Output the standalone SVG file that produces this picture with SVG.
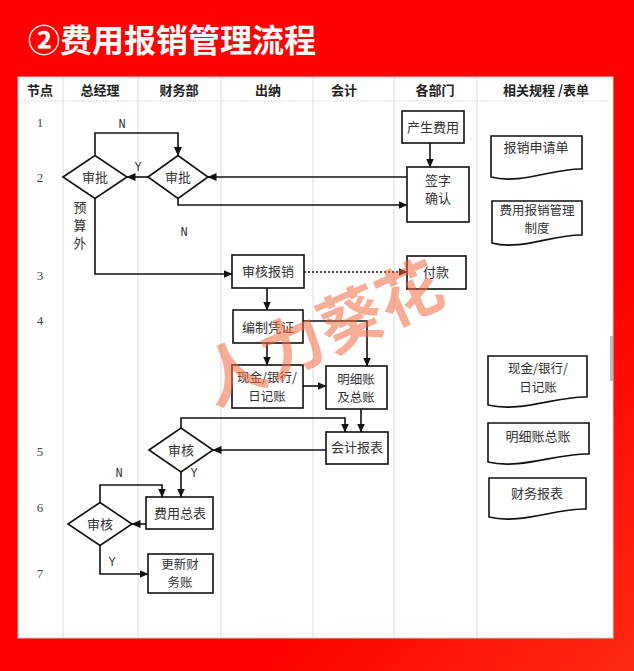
<svg xmlns="http://www.w3.org/2000/svg" width="634" height="671" viewBox="0 0 634 671">
<defs>
<linearGradient id="bg" x1="0" y1="0" x2="1" y2="1">
<stop offset="0" stop-color="#ff0000"/>
<stop offset="0.7" stop-color="#ff0200"/>
<stop offset="1" stop-color="#ff2a12"/>
</linearGradient>
<marker id="ah" markerWidth="9" markerHeight="8" refX="8.5" refY="4" orient="auto" markerUnits="userSpaceOnUse">
<path d="M0,0 L9,4 L0,8 Z" fill="#111"/>
</marker>
<style>
.hdr{font-family:"Noto Sans CJK SC","Liberation Sans",sans-serif;font-size:13px;font-weight:bold;fill:#222;text-anchor:middle}
.num{font-family:"Liberation Serif",serif;font-size:13px;fill:#444;text-anchor:middle}
.lbl{font-family:"Liberation Mono",monospace;font-size:12px;fill:#333;text-anchor:middle}
.t{font-family:"Noto Sans CJK SC","Liberation Sans",sans-serif;font-size:13px;fill:#333;text-anchor:middle}
.s{font-size:12.5px}
.box{fill:#fff;stroke:#111;stroke-width:1.6}
.col{stroke:#dcdcdc;stroke-width:1;fill:none}
.con{stroke:#111;stroke-width:1.6;fill:none}
</style>
</defs>
<rect x="0" y="0" width="634" height="671" fill="url(#bg)"/>
<text x="28" y="52" font-family="'Noto Sans CJK SC','Liberation Sans',sans-serif" font-size="32" font-weight="bold" fill="#fff">②费用报销管理流程</text>
<g id="table">
<rect x="18" y="77" width="595" height="561" fill="#fff" stroke="#cfcfcf" stroke-width="1"/>
<line class="col" x1="18" y1="101" x2="613" y2="101" stroke-dasharray="2,1"/>
<line class="col" x1="63" y1="77" x2="63" y2="638"/>
<line class="col" x1="138" y1="77" x2="138" y2="638"/>
<line class="col" x1="221" y1="77" x2="221" y2="638"/>
<line class="col" x1="313" y1="77" x2="313" y2="638"/>
<line class="col" x1="394" y1="77" x2="394" y2="638"/>
<line class="col" x1="477" y1="77" x2="477" y2="638"/>
<rect x="610" y="336" width="3" height="45" fill="#bdbdbd"/>
<text class="hdr" x="40" y="95">节点</text>
<text class="hdr" x="100" y="95">总经理</text>
<text class="hdr" x="179" y="95">财务部</text>
<text class="hdr" x="268" y="95">出纳</text>
<text class="hdr" x="344" y="95">会计</text>
<text class="hdr" x="435" y="95">各部门</text>
<text class="hdr" x="546" y="95">相关规程 /表单</text>
<text class="num" x="40" y="127">1</text>
<text class="num" x="40" y="182">2</text>
<text class="num" x="40" y="280">3</text>
<text class="num" x="40" y="325">4</text>
<text class="num" x="40" y="456">5</text>
<text class="num" x="40" y="512">6</text>
<text class="num" x="40" y="578">7</text>
</g>
<g id="connectors">
<path class="con" d="M95,155.5 V133 H178 V155.5" marker-end="url(#ah)"/>
<path class="con" d="M148,177 H127" marker-end="url(#ah)"/>
<path class="con" d="M407,177 H208" marker-end="url(#ah)"/>
<path class="con" d="M178,198.5 V205 H407" marker-end="url(#ah)"/>
<path class="con" d="M430,143 V167" marker-end="url(#ah)"/>
<path class="con" d="M95,198.5 V274 H232" marker-end="url(#ah)"/>
<path class="con" d="M304,272 H407" stroke-dasharray="2,2" marker-end="url(#ah)"/>
<path class="con" d="M267,288 V310" marker-end="url(#ah)"/>
<path class="con" d="M267,343 V365" marker-end="url(#ah)"/>
<path class="con" d="M303,321 H367 V366" marker-end="url(#ah)"/>
<path class="con" d="M303,386 H326" marker-end="url(#ah)"/>
<path class="con" d="M361,409 V432" marker-end="url(#ah)"/>
<path class="con" d="M181,428 V418 H345 V432" marker-end="url(#ah)"/>
<path class="con" d="M326,450 H213" marker-end="url(#ah)"/>
<path class="con" d="M181,472 V497" marker-end="url(#ah)"/>
<path class="con" d="M146,524 H132" marker-end="url(#ah)"/>
<path class="con" d="M100,502.5 V485 H162 V497" marker-end="url(#ah)"/>
<path class="con" d="M100,545.5 V574 H148" marker-end="url(#ah)"/>
<text class="lbl" x="122" y="128">N</text>
<text class="lbl" x="138" y="171">Y</text>
<text class="lbl" x="184" y="236">N</text>
<text class="lbl" x="194" y="477">Y</text>
<text class="lbl" x="119" y="477">N</text>
<text class="lbl" x="112" y="566">Y</text>
<text class="t" x="80" y="212" fill="#555">预</text>
<text class="t" x="80" y="230" fill="#555">算</text>
<text class="t" x="80" y="248" fill="#555">外</text>
</g>
<g id="n-gm-approve"><polygon class="box" points="63,177 95,155.5 127,177 95,198.5"/><text class="t" x="95" y="182">审批</text></g>
<g id="n-fin-approve"><polygon class="box" points="148,177 178,155.5 208,177 178,198.5"/><text class="t" x="178" y="182">审批</text></g>
<g id="n-expense"><rect class="box" x="402" y="111" width="62" height="32"/><text class="t" x="433" y="132">产生费用</text></g>
<g id="n-sign"><rect class="box" x="407" y="167" width="62" height="55"/><text class="t" x="438" y="185">签字</text><text class="t" x="438" y="203">确认</text></g>
<g id="n-review"><rect class="box" x="232" y="255" width="72" height="33"/><text class="t" x="268" y="276">审核报销</text></g>
<g id="n-pay"><rect class="box" x="407" y="256" width="59" height="33"/><text class="t" x="436" y="277">付款</text></g>
<g id="n-voucher"><rect class="box" x="233" y="310" width="70" height="33"/><text class="t" x="268" y="332">编制凭证</text></g>
<g id="n-journal"><rect class="box" x="232" y="365" width="71" height="43"/><text class="t s" x="267" y="382">现金/银行/</text><text class="t s" x="267" y="401">日记账</text></g>
<g id="n-ledger"><rect class="box" x="326" y="366" width="61" height="43"/><text class="t s" x="356" y="384">明细账</text><text class="t s" x="356" y="402">及总账</text></g>
<g id="n-report"><rect class="box" x="326" y="432" width="62" height="32"/><text class="t" x="357" y="452">会计报表</text></g>
<g id="n-audit5"><polygon class="box" points="149,450 181,428 213,450 181,472"/><text class="t" x="181" y="455">审核</text></g>
<g id="n-summary"><rect class="box" x="146" y="497" width="67" height="32"/><text class="t" x="180" y="518">费用总表</text></g>
<g id="n-audit6"><polygon class="box" points="68,524 100,502.5 132,524 100,545.5"/><text class="t" x="100" y="529">审核</text></g>
<g id="n-update"><rect class="box" x="148" y="554" width="65" height="39"/><text class="t s" x="180" y="569">更新财</text><text class="t s" x="180" y="587">务账</text></g>
<g id="d-apply"><path class="box" d="M491,136 H582 V169 C555,168 520,185 491,177 Z"/><text class="t" x="536" y="152">报销申请单</text></g>
<g id="d-policy"><path class="box" d="M492,201 H582 V235 C555,234 520,251 492,243 Z"/><text class="t s" x="537" y="215">费用报销管理</text><text class="t s" x="537" y="233">制度</text></g>
<g id="d-journal"><path class="box" d="M488,356 H587 V397 C557,396 520,413 488,405 Z"/><text class="t s" x="538" y="373">现金/银行/</text><text class="t s" x="538" y="392">日记账</text></g>
<g id="d-ledger"><path class="box" d="M488,423 H589 V454 C558,453 520,470 488,462 Z"/><text class="t" x="538" y="441">明细账总账</text></g>
<g id="d-report"><path class="box" d="M489,478 H586 V509 C556,508 520,525 489,517 Z"/><text class="t" x="537" y="498">财务报表</text></g>
<text x="322" y="356" transform="rotate(-24 322 334)" font-family="'Noto Sans CJK SC',sans-serif" font-size="64" font-weight="bold" fill="#f26b3f" fill-opacity="0.55" text-anchor="middle">人力葵花</text>
</svg>
